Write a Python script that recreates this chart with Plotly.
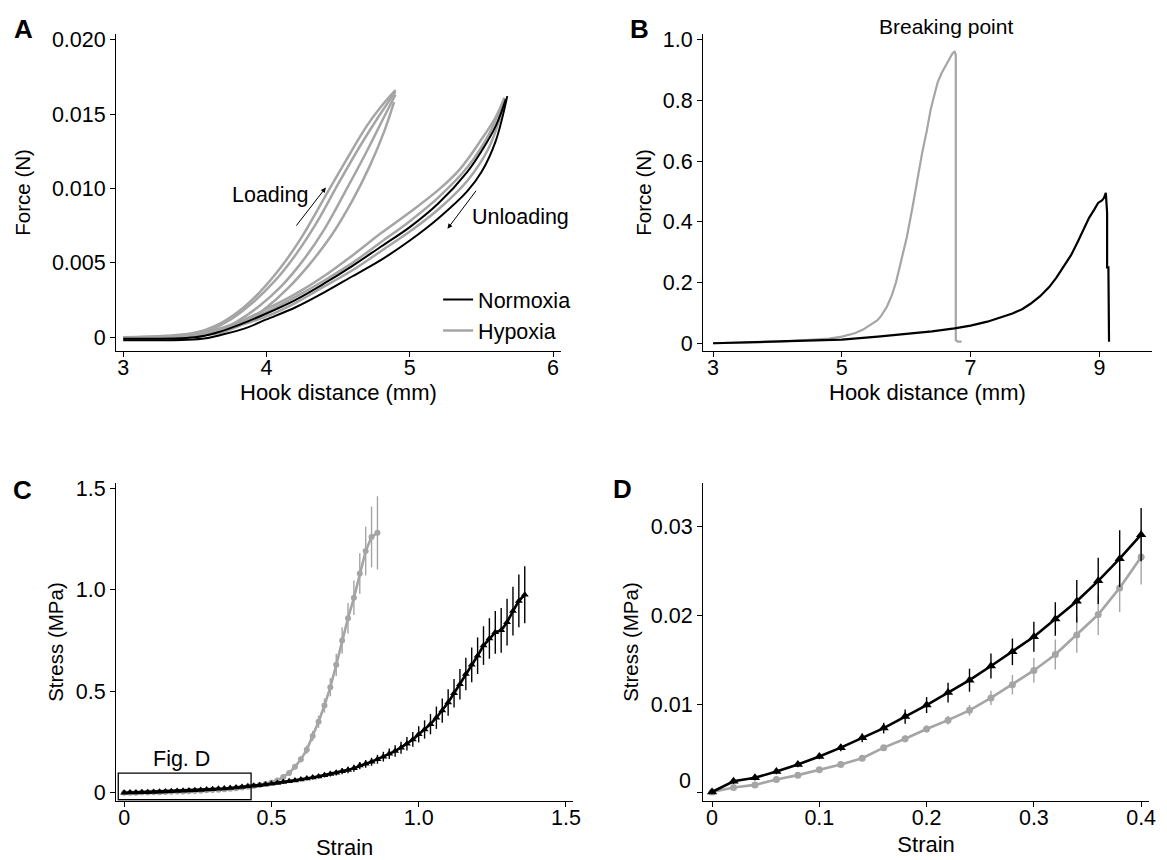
import plotly.graph_objects as go

FONT = "Liberation Sans, Arial, Helvetica, sans-serif"
GRAY = "#a5a5a5"
BLACK = "#000000"

# ---------------- Panel A: loading / unloading cycles ----------------
# hook distance (mm) and force (N) for each recorded cycle
A_HYP_1_X = [3.0, 3.3, 3.5, 3.65, 3.8, 3.95, 4.1, 4.25, 4.4, 4.55, 4.7, 4.8, 4.9]
A_HYP_1_Y = [0.0, 0.0001, 0.0003, 0.0008, 0.0017, 0.003, 0.0047, 0.0068, 0.0093, 0.0118, 0.0142, 0.0155, 0.0166]
A_HYP_2_X = [3.0, 3.4, 3.6, 3.75, 3.9, 4.05, 4.2, 4.35, 4.5, 4.65, 4.78, 4.9]
A_HYP_2_Y = [0.0, 0.0001, 0.0005, 0.0012, 0.0023, 0.0037, 0.0055, 0.0077, 0.0103, 0.0128, 0.0148, 0.0165]
A_HYP_3_X = [3.0, 3.45, 3.65, 3.8, 3.95, 4.1, 4.25, 4.4, 4.55, 4.7, 4.82, 4.9]
A_HYP_3_Y = [0.0, 0.0001, 0.0004, 0.0011, 0.0021, 0.0034, 0.0051, 0.0072, 0.0098, 0.0125, 0.0148, 0.0163]
A_HYP_4_X = [3.0, 3.5, 3.7, 3.85, 4.0, 4.15, 4.3, 4.45, 4.6, 4.72, 4.82, 4.89]
A_HYP_4_Y = [0.0, 0.0001, 0.0004, 0.001, 0.002, 0.0033, 0.0049, 0.0068, 0.0092, 0.0115, 0.0138, 0.0158]
A_HYP_5_X = [3.0, 3.4, 3.6, 3.8, 4.0, 4.2, 4.4, 4.6, 4.8, 5.0, 5.2, 5.35, 5.5, 5.6, 5.66]
A_HYP_5_Y = [0.0, 0.0001, 0.0004, 0.001, 0.0019, 0.0029, 0.0041, 0.0055, 0.007, 0.0084, 0.0099, 0.0113, 0.0133, 0.0148, 0.0161]
A_HYP_6_X = [3.0, 3.5, 3.65, 3.8, 4.0, 4.2, 4.4, 4.6, 4.8, 5.0, 5.2, 5.4, 5.55, 5.65]
A_HYP_6_Y = [0.0, 0.0001, 0.0004, 0.0009, 0.0017, 0.0027, 0.0038, 0.005, 0.0064, 0.0078, 0.0094, 0.0114, 0.0136, 0.0158]
A_HYP_7_X = [3.0, 3.5, 3.68, 3.82, 4.0, 4.2, 4.4, 4.6, 4.8, 5.0, 5.2, 5.4, 5.55, 5.66]
A_HYP_7_Y = [0.0, 0.0001, 0.0003, 0.0008, 0.0014, 0.0023, 0.0034, 0.0045, 0.0058, 0.0071, 0.0086, 0.0105, 0.0127, 0.0157]
A_NOR_1_X = [3.0, 3.5, 3.65, 3.8, 4.0, 4.2, 4.4, 4.6, 4.8, 5.0, 5.2, 5.4, 5.5, 5.6, 5.67]
A_NOR_1_Y = [-0.0001, 0.0, 0.0003, 0.0008, 0.0016, 0.0025, 0.0036, 0.0048, 0.0061, 0.0074, 0.009, 0.0111, 0.0125, 0.0142, 0.016]
A_NOR_2_X = [3.0, 3.55, 3.7, 3.85, 4.0, 4.2, 4.4, 4.6, 4.8, 5.0, 5.2, 5.4, 5.5, 5.6, 5.68]
A_NOR_2_Y = [-0.0002, -0.0001, 0.0002, 0.0006, 0.0012, 0.002, 0.003, 0.0041, 0.0052, 0.0065, 0.008, 0.0098, 0.0111, 0.0132, 0.0162]

A_HYPOXIA = [(A_HYP_1_X, A_HYP_1_Y), (A_HYP_2_X, A_HYP_2_Y), (A_HYP_3_X, A_HYP_3_Y),
             (A_HYP_4_X, A_HYP_4_Y), (A_HYP_5_X, A_HYP_5_Y), (A_HYP_6_X, A_HYP_6_Y),
             (A_HYP_7_X, A_HYP_7_Y)]
A_NORMOXIA = [(A_NOR_1_X, A_NOR_1_Y), (A_NOR_2_X, A_NOR_2_Y)]

# ---------------- Panel B: pull to failure ----------------
B_HYP_X = [3.0, 3.5, 4.0, 4.43, 4.8, 5.0, 5.2, 5.33, 5.45, 5.55, 5.61, 5.7, 5.78, 5.84, 5.92,
           6.01, 6.1, 6.18, 6.25, 6.32, 6.38, 6.44, 6.49, 6.55, 6.6, 6.66, 6.72, 6.75, 6.77,
           6.77, 6.8, 6.86]
B_HYP_Y = [0.0, 0.002, 0.005, 0.010, 0.015, 0.022, 0.033, 0.045, 0.060, 0.075, 0.090, 0.12,
           0.16, 0.20, 0.27, 0.35, 0.45, 0.55, 0.63, 0.70, 0.77, 0.82, 0.86, 0.89, 0.91, 0.935,
           0.955, 0.96, 0.95, 0.01, 0.005, 0.005]
B_NOR_X = [3.0, 3.8, 4.65, 5.0, 5.56, 6.0, 6.4, 6.75, 7.0, 7.26, 7.45, 7.65, 7.8, 7.93, 8.08,
           8.22, 8.33, 8.44, 8.56, 8.67, 8.76, 8.84, 8.92, 8.98, 9.04, 9.07, 9.10, 9.12, 9.12,
           9.14, 9.15]
B_NOR_Y = [0.0, 0.004, 0.009, 0.012, 0.022, 0.030, 0.039, 0.049, 0.058, 0.071, 0.083, 0.098,
           0.112, 0.130, 0.155, 0.185, 0.215, 0.25, 0.29, 0.337, 0.375, 0.413, 0.44, 0.462,
           0.47, 0.478, 0.495, 0.43, 0.25, 0.25, 0.005]

# ---------------- Panels C and D: stress-strain (mean +/- SEM) ----------------
STRAIN = [0.00, 0.02, 0.04, 0.06, 0.08, 0.10, 0.12, 0.14, 0.16, 0.18,
          0.20, 0.22, 0.24, 0.26, 0.28, 0.30, 0.32, 0.34, 0.36, 0.38,
          0.40, 0.42, 0.44, 0.46, 0.48, 0.50, 0.52, 0.54, 0.56, 0.58,
          0.60, 0.62, 0.64, 0.66, 0.68, 0.70, 0.72, 0.74, 0.76, 0.78,
          0.80, 0.82, 0.84, 0.86, 0.88, 0.90, 0.92, 0.94, 0.96, 0.98,
          1.00, 1.02, 1.04, 1.06, 1.08, 1.10, 1.12, 1.14, 1.16, 1.18,
          1.20, 1.22, 1.24, 1.26, 1.28, 1.30, 1.32, 1.34, 1.36]

NOR_STRESS = [0.0001, 0.0013, 0.0017, 0.0024, 0.0032, 0.0041, 0.0051, 0.0062, 0.0073, 0.0086,
              0.0099, 0.0113, 0.0127, 0.0143, 0.0159, 0.0176, 0.0196, 0.0216, 0.0239, 0.0264,
              0.0291, 0.032, 0.035, 0.038, 0.041, 0.045, 0.049, 0.053, 0.057, 0.061,
              0.066, 0.071, 0.076, 0.081, 0.087, 0.093, 0.099, 0.106, 0.113, 0.121,
              0.134, 0.143, 0.153, 0.165, 0.178, 0.192, 0.206, 0.222, 0.242, 0.263,
              0.288, 0.312, 0.338, 0.370, 0.405, 0.445, 0.490, 0.535, 0.585, 0.630,
              0.675, 0.725, 0.760, 0.790, 0.800, 0.840, 0.895, 0.945, 0.975]
NOR_SEM = [0.0002, 0.0003, 0.0003, 0.0003, 0.0003, 0.0003, 0.0004, 0.0005, 0.0006, 0.0008,
           0.0009, 0.0011, 0.0013, 0.0014, 0.0015, 0.0017, 0.0019, 0.0024, 0.0026, 0.0032,
           0.0030, 0.004, 0.005, 0.005, 0.006, 0.006, 0.007, 0.007, 0.008, 0.008,
           0.009, 0.009, 0.010, 0.011, 0.012, 0.013, 0.014, 0.015, 0.016, 0.017,
           0.018, 0.019, 0.020, 0.022, 0.024, 0.026, 0.028, 0.030, 0.033, 0.036,
           0.040, 0.045, 0.050, 0.055, 0.060, 0.065, 0.070, 0.075, 0.080, 0.085,
           0.090, 0.095, 0.100, 0.105, 0.110, 0.115, 0.120, 0.130, 0.140]

HYP_STRESS = [0.0001, 0.0006, 0.0009, 0.0015, 0.0020, 0.0026, 0.0032, 0.0039, 0.0051, 0.0061,
              0.0072, 0.0082, 0.0093, 0.0107, 0.0122, 0.0138, 0.0156, 0.0178, 0.0201, 0.0231,
              0.0266, 0.030, 0.034, 0.039, 0.044, 0.051, 0.061, 0.078, 0.098, 0.128,
              0.165, 0.212, 0.280, 0.350, 0.430, 0.520, 0.630, 0.750, 0.860, 0.960,
              1.080, 1.190, 1.260, 1.280]
HYP_SEM = [0.0002, 0.0002, 0.0002, 0.0002, 0.0002, 0.0002, 0.0003, 0.0003, 0.0003, 0.0004,
           0.0004, 0.0005, 0.0006, 0.0008, 0.0011, 0.0014, 0.0017, 0.0020, 0.0023, 0.0027,
           0.0031, 0.004, 0.004, 0.005, 0.005, 0.006, 0.007, 0.008, 0.010, 0.012,
           0.015, 0.020, 0.025, 0.030, 0.035, 0.045, 0.055, 0.065, 0.075, 0.085,
           0.10, 0.12, 0.15, 0.18]

HYP_STRAIN = STRAIN[:len(HYP_STRESS)]
D_COUNT = 21  # points up to strain 0.40 shown in the zoomed panel

fig = go.Figure()

# Panel A curves
for i, (xs, ys) in enumerate(A_HYPOXIA):
    fig.add_trace(go.Scatter(x=xs, y=ys, mode="lines", line=dict(color=GRAY, width=2.5, shape="spline"),
                             name="Hypoxia", legendgroup="hyp", showlegend=(i == 0), legendrank=2,
                             xaxis="x", yaxis="y"))
for i, (xs, ys) in enumerate(A_NORMOXIA):
    fig.add_trace(go.Scatter(x=xs, y=ys, mode="lines", line=dict(color=BLACK, width=2, shape="spline"),
                             name="Normoxia", legendgroup="nor", showlegend=(i == 0), legendrank=1,
                             xaxis="x", yaxis="y"))

# Panel B curves
fig.add_trace(go.Scatter(x=B_HYP_X, y=B_HYP_Y, mode="lines", line=dict(color=GRAY, width=2.2),
                         showlegend=False, xaxis="x2", yaxis="y2"))
fig.add_trace(go.Scatter(x=B_NOR_X, y=B_NOR_Y, mode="lines", line=dict(color=BLACK, width=2.2),
                         showlegend=False, xaxis="x2", yaxis="y2"))


def stress_trace(xs, ys, err, color, symbol, size, xa, ya):
    return go.Scatter(x=xs, y=ys, mode="lines+markers",
                      line=dict(color=color, width=2.6),
                      marker=dict(color=color, symbol=symbol, size=size),
                      error_y=dict(type="data", array=err, visible=True, thickness=1.4,
                                   width=0, color=color),
                      showlegend=False, xaxis=xa, yaxis=ya)


# Panel C
fig.add_trace(stress_trace(HYP_STRAIN, HYP_STRESS, HYP_SEM, GRAY, "circle", 6, "x3", "y3"))
fig.add_trace(stress_trace(STRAIN, NOR_STRESS, NOR_SEM, BLACK, "triangle-up", 7, "x3", "y3"))

# Panel D: first part of the same curves
fig.add_trace(stress_trace(HYP_STRAIN[:D_COUNT], HYP_STRESS[:D_COUNT], HYP_SEM[:D_COUNT],
                           GRAY, "circle", 7, "x4", "y4"))
fig.add_trace(stress_trace(STRAIN[:D_COUNT], NOR_STRESS[:D_COUNT], NOR_SEM[:D_COUNT],
                           BLACK, "triangle-up", 9, "x4", "y4"))

TICK_SIZE = 21.5
XTITLE_SIZE = 22
YTITLE_SIZE = 20.5


def axis(domain, rng, tickvals, ticktext, title, anchor, standoff, horizontal):
    d = dict(domain=domain, range=rng, anchor=anchor,
             showline=True, linecolor=BLACK, linewidth=1.4,
             ticks="outside", ticklen=5, tickwidth=1.4, tickcolor=BLACK,
             showgrid=False, zeroline=False,
             tickvals=tickvals, ticktext=ticktext,
             tickfont=dict(family=FONT, size=TICK_SIZE, color=BLACK))
    if title:
        d["title"] = dict(text=title,
                          font=dict(family=FONT, size=XTITLE_SIZE if horizontal else YTITLE_SIZE,
                                    color=BLACK),
                          standoff=standoff)
    if horizontal:
        d["ticklabelstandoff"] = -8
    return d


W, H = 1167, 860
XA = [117 / W, 565 / W]
XB = [708 / W, 1160 / W]
XC = [117 / W, 577 / W]
XD = [708 / W, 1157 / W]
Y_TOP = [1 - 349 / H, 1 - 27 / H]
Y_BOT = [1 - 805 / H, 1 - 483 / H]

layout = dict(
    width=W, height=H, margin=dict(l=0, r=0, t=0, b=0),
    paper_bgcolor="white", plot_bgcolor="white",
    font=dict(family=FONT, size=21, color=BLACK),
    showlegend=True,
    legend=dict(x=0.378, y=1 - 276 / H, xanchor="left", yanchor="top",
                bgcolor="rgba(0,0,0,0)", font=dict(family=FONT, size=21.5, color=BLACK),
                tracegroupgap=0, itemwidth=30),
    xaxis=axis(XA, [2.951, 6.056], [3, 4, 5, 6], ["3", "4", "5", "6"], None, "y", 0, True),
    yaxis=axis(Y_TOP, [-0.00093, 0.0204], [0, 0.005, 0.01, 0.015, 0.02],
               ["0", "0.005", "0.010", "0.015", "0.020"], "Force (N)", "x", 15, False),
    xaxis2=axis(XB, [2.846, 9.818], [3, 5, 7, 9], ["3", "5", "7", "9"], None, "y2", 0, True),
    yaxis2=axis(Y_TOP, [-0.026, 1.0195], [0, 0.2, 0.4, 0.6, 0.8, 1.0],
                ["0", "0.2", "0.4", "0.6", "0.8", "1.0"], "Force (N)", "x2", 5, False),
    xaxis3=axis(XC, [-0.027, 1.524], [0, 0.5, 1.0, 1.5], ["0", "0.5", "1.0", "1.5"], "Strain", "y3", 11, True),
    yaxis3=axis(Y_BOT, [-0.039, 1.524], [0, 0.5, 1.0, 1.5], ["0", "0.5", "1.0", "1.5"],
                "Stress (MPa)", "x3", 6, False),
    xaxis4=axis(XD, [-0.0083, 0.4074], [0, 0.1, 0.2, 0.3, 0.4], ["0", "0.1", "0.2", "0.3", "0.4"],
                "Strain", "y4", 7, True),
    yaxis4=axis(Y_BOT, [-0.00089, 0.0349], [0, 0.01, 0.02, 0.03], ["", "0.01", "0.02", "0.03"],
                "Stress (MPa)", "x4", 6, False),
)
fig.update_layout(**layout)

txt = dict(family=FONT, size=21.5, color=BLACK)
letter = dict(family=FONT, size=26, color=BLACK)
xtitle = dict(family=FONT, size=XTITLE_SIZE, color=BLACK)


def paper_text(text, px, py, font, xanchor="center"):
    return dict(text=text, x=px / W, y=1 - py / H, xref="paper", yref="paper",
                xanchor=xanchor, yanchor="middle", showarrow=False, font=font)


annotations = [
    paper_text("<b>A</b>", 24, 22, letter),
    paper_text("<b>B</b>", 644, 22, letter),
    paper_text("<b>C</b>", 23, 490, letter),
    paper_text("<b>D</b>", 627, 489, letter),
    paper_text("Breaking point", 953, 20, dict(family=FONT, size=21, color=BLACK)),
    # x-axis titles of the two force panels
    paper_text("Hook distance (mm)", (XA[0] + XA[1]) / 2 * W, 391, xtitle),
    paper_text("Hook distance (mm)", (XB[0] + XB[1]) / 2 * W, 391, xtitle),
    # loading / unloading arrows in panel A
    dict(text="", x=4.414, y=0.01006, ax=4.20, ay=0.0074, xref="x", yref="y", axref="x", ayref="y",
         showarrow=True, arrowhead=2, arrowsize=1, arrowwidth=1, arrowcolor=BLACK),
    dict(text="", x=5.263, y=0.00729, ax=5.47, ay=0.00994, xref="x", yref="y", axref="x", ayref="y",
         showarrow=True, arrowhead=2, arrowsize=1, arrowwidth=1, arrowcolor=BLACK),
    dict(text="Loading", x=4.03, y=0.00957, xref="x", yref="y", xanchor="center", yanchor="middle",
         showarrow=False, font=txt),
    dict(text="Unloading", x=5.77, y=0.00807, xref="x", yref="y", xanchor="center", yanchor="middle",
         showarrow=False, font=txt),
    # panel C inset label
    dict(text="Fig. D", x=0.195, y=0.165, xref="x3", yref="y3", xanchor="center", yanchor="middle",
         showarrow=False, font=txt),
    # panel D zero label
    paper_text("0", 698, 785, dict(family=FONT, size=TICK_SIZE, color=BLACK), xanchor="right"),
]
fig.update_layout(annotations=annotations)

fig.add_shape(type="rect", xref="x3", yref="y3", x0=-0.02, x1=0.431, y0=-0.034, y1=0.097,
              line=dict(color=BLACK, width=1.3), fillcolor="rgba(0,0,0,0)")

fig.write_html("out.html")
